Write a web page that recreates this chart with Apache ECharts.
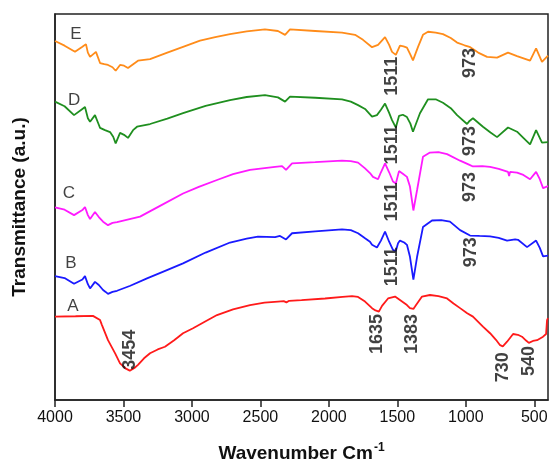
<!DOCTYPE html>
<html>
<head>
<meta charset="utf-8">
<script src="https://cdn.jsdelivr.net/npm/echarts@6/dist/echarts.min.js"></script>
<style>
  html, body { margin: 0; padding: 0; background: #fff; }
  #chart { width: 549px; height: 463px; }
</style>
</head>
<body>
<div id="chart"></div>
<script>
// FTIR spectra, wavenumber (cm-1) vs transmittance (a.u., stacked offsets)
const xTicks = [4000, 3500, 3000, 2500, 2000, 1500, 1000, 500];

const spectrumA = [
  [4000, 21.6], [3850, 21.7], [3723, 21.8], [3671, 20.7], [3657, 19.4], [3613, 15.5],
  [3560, 12.0], [3525, 9.5], [3485, 8.2], [3454, 7.6], [3420, 8.3], [3394, 9.1],
  [3350, 10.8], [3306, 12.1], [3250, 13.1], [3197, 13.8], [3130, 15.5], [3065, 17.3],
  [2992, 18.6], [2900, 20.4], [2817, 22.0], [2700, 23.5], [2576, 24.6], [2470, 25.2],
  [2372, 25.5], [2330, 25.6], [2310, 25.3], [2290, 25.7], [2200, 25.9], [2028, 26.3],
  [1900, 26.7], [1831, 26.9], [1787, 26.7], [1736, 25.5], [1685, 23.8], [1660, 23.2],
  [1635, 22.9], [1612, 24.4], [1568, 26.3], [1517, 26.8], [1481, 25.9], [1430, 24.6],
  [1408, 23.8], [1383, 23.6], [1371, 24.2], [1320, 26.8], [1262, 27.2], [1200, 26.9],
  [1137, 26.3], [1090, 25.0], [1042, 23.8], [990, 22.5], [948, 21.6], [875, 19.0],
  [823, 17.3], [780, 15.6], [750, 14.2], [730, 13.9], [699, 15.1], [655, 17.1],
  [620, 16.9], [590, 16.4], [560, 15.4], [540, 14.8], [510, 15.3], [480, 15.5],
  [436, 16.4], [414, 17.1], [407, 20.7], [400, 21.2]
];

const spectrumB = [
  [4000, 32.1], [3930, 31.6], [3861, 30.1], [3800, 31.2], [3781, 32.1], [3760, 30.0],
  [3744, 28.9], [3708, 30.6], [3680, 29.8], [3649, 28.5], [3630, 28.0], [3613, 27.5],
  [3580, 28.0], [3547, 28.3], [3450, 29.6], [3328, 31.5], [3200, 33.4], [3065, 35.4],
  [2900, 38.2], [2722, 40.8], [2600, 41.8], [2518, 42.3], [2393, 42.2], [2357, 42.5],
  [2313, 41.6], [2269, 43.2], [2100, 43.7], [1904, 44.2], [1840, 44.0], [1787, 43.2],
  [1736, 41.9], [1700, 41.0], [1685, 40.2], [1649, 39.5], [1620, 41.3], [1590, 43.6],
  [1560, 41.0], [1532, 38.9], [1511, 38.6], [1495, 40.6], [1481, 41.3], [1450, 40.8],
  [1430, 40.2], [1408, 37.1], [1383, 31.2], [1356, 37.1], [1313, 44.8], [1247, 46.5],
  [1180, 46.6], [1116, 46.2], [1042, 44.0], [969, 42.6], [900, 42.5], [823, 42.4],
  [760, 42.0], [699, 41.3], [640, 41.6], [619, 41.5], [553, 39.6], [487, 41.3],
  [460, 39.4], [436, 37.2], [400, 37.4]
];

const spectrumC = [
  [4000, 49.9], [3930, 49.3], [3861, 47.9], [3800, 49.2], [3781, 50.0], [3760, 47.9],
  [3744, 46.9], [3708, 48.7], [3680, 47.4], [3649, 46.2], [3613, 45.3], [3580, 45.9],
  [3547, 46.1], [3379, 47.5], [3233, 50.3], [3065, 53.5], [2950, 55.2], [2817, 57.0],
  [2700, 58.5], [2576, 59.6], [2393, 60.4], [2342, 60.6], [2313, 59.6], [2269, 61.3],
  [2100, 61.6], [1904, 62.0], [1840, 61.9], [1787, 61.5], [1736, 60.0], [1700, 58.8],
  [1678, 57.8], [1641, 57.2], [1620, 59.0], [1590, 61.3], [1560, 59.0], [1532, 56.6],
  [1511, 56.1], [1488, 59.3], [1460, 58.6], [1430, 57.8], [1408, 55.3], [1383, 49.1],
  [1356, 54.4], [1313, 63.0], [1262, 64.1], [1200, 64.2], [1137, 63.7], [1042, 62.0],
  [973, 60.9], [948, 60.5], [880, 60.6], [823, 60.4], [760, 59.9], [692, 59.1],
  [684, 58.0], [677, 59.1], [626, 58.9], [580, 58.3], [531, 57.2], [487, 59.1],
  [460, 57.2], [436, 54.9], [400, 55.4]
];

const spectrumD = [
  [4000, 77.3], [3930, 76.1], [3861, 73.8], [3800, 75.4], [3781, 75.9], [3760, 73.0],
  [3744, 72.1], [3708, 73.8], [3680, 71.3], [3671, 70.5], [3635, 69.9], [3598, 69.4],
  [3575, 68.2], [3557, 66.5], [3525, 69.2], [3496, 68.7], [3467, 67.9], [3430, 69.9],
  [3401, 70.8], [3306, 71.5], [3180, 72.9], [3065, 74.3], [2900, 76.2], [2722, 77.7],
  [2600, 78.5], [2467, 79.0], [2372, 78.4], [2320, 77.3], [2284, 78.6], [2100, 78.3],
  [1904, 77.9], [1840, 77.3], [1787, 76.4], [1736, 75.4], [1685, 73.4], [1649, 73.8],
  [1620, 75.2], [1590, 76.8], [1560, 74.4], [1539, 72.5], [1511, 70.6], [1488, 73.6],
  [1460, 73.9], [1430, 73.3], [1405, 71.6], [1386, 69.5], [1335, 74.3], [1276, 77.9],
  [1220, 77.9], [1167, 77.0], [1110, 75.6], [1064, 73.8], [991, 71.5], [973, 72.3],
  [948, 73.0], [875, 70.8], [820, 69.3], [772, 68.1], [692, 70.6], [626, 69.5],
  [580, 67.9], [531, 66.2], [487, 69.9], [444, 66.7], [400, 66.8]
];

const spectrumE = [
  [4000, 93.0], [3930, 91.8], [3854, 90.2], [3800, 91.5], [3774, 92.2], [3760, 90.0],
  [3744, 88.9], [3701, 90.2], [3671, 87.3], [3640, 87.0], [3613, 86.8], [3580, 86.2],
  [3557, 85.3], [3525, 86.8], [3496, 86.6], [3467, 86.0], [3394, 87.9], [3306, 88.3],
  [3180, 90.0], [3065, 91.5], [2941, 93.1], [2830, 94.0], [2722, 94.8], [2600, 95.5],
  [2467, 96.0], [2372, 95.6], [2320, 94.6], [2284, 96.0], [2100, 95.6], [1904, 95.2],
  [1809, 94.6], [1751, 93.3], [1685, 91.4], [1641, 92.0], [1590, 94.0], [1560, 92.0],
  [1539, 90.2], [1511, 89.4], [1481, 91.8], [1455, 91.6], [1430, 91.3], [1405, 89.5],
  [1386, 88.0], [1349, 91.5], [1313, 94.6], [1276, 95.4], [1220, 95.2], [1167, 94.8],
  [1110, 93.8], [1064, 92.6], [1010, 91.9], [973, 91.5], [910, 90.0], [845, 88.9],
  [772, 88.7], [692, 90.0], [626, 89.1], [531, 87.9], [487, 91.1], [444, 87.6],
  [400, 89.2]
];

const seriesNames = ['A', 'B', 'C', 'D', 'E'];
const seriesColors = ['#ff1a1a', '#1a1aff', '#ff1aff', '#1f8f1f', '#ff8c1a'];
const spectra = [spectrumA, spectrumB, spectrumC, spectrumD, spectrumE];

// curve letters: [wavenumber, transmittance, text]
const curveLabels = [
  [3869, 24.4, 'A'], [3883, 35.5, 'B'], [3898, 53.6, 'C'], [3861, 77.7, 'D'], [3847, 94.8, 'E']
];

// band assignments written vertically beside each curve
const peakLabels = [
  [3454, 13.0, '3454'], [1645, 17.1, '1635'], [1393, 17.1, '1383'],
  [732, 8.5, '730'], [535, 10.1, '540'],
  [1539, 34.5, '1511'], [1539, 51.3, '1511'], [1539, 66.1, '1511'], [1539, 83.9, '1511'],
  [962, 38.3, '973'], [969, 55.2, '973'], [969, 67.1, '973'], [969, 87.3, '973']
];

const FONT = '"Liberation Sans", Arial, sans-serif';
const AXIS_COLOR = '#222';

const chart = echarts.init(document.getElementById('chart'), null, { renderer: 'canvas' });

const lineSeries = spectra.map((data, i) => ({
  name: seriesNames[i],
  type: 'line',
  data: data,
  showSymbol: false,
  symbol: 'none',
  silent: true,
  lineStyle: { color: seriesColors[i], width: 1.8 },
  z: 2
}));

const textSeries = [
  {
    type: 'scatter',
    data: curveLabels,
    symbolSize: 0,
    silent: true,
    label: {
      show: true,
      position: 'inside',
      formatter: p => p.data[2],
      fontFamily: FONT,
      fontSize: 17,
      color: '#111',
      align: 'center',
      verticalAlign: 'middle'
    },
    z: 3
  },
  {
    type: 'scatter',
    data: peakLabels,
    symbolSize: 0,
    silent: true,
    label: {
      show: true,
      position: 'inside',
      rotate: 90,
      formatter: p => p.data[2],
      fontFamily: FONT,
      fontWeight: 'bold',
      fontSize: 18,
      color: '#111',
      align: 'center',
      verticalAlign: 'middle'
    },
    z: 3
  }
];

chart.setOption({
  animation: false,
  backgroundColor: '#fff',
  grid: {
    left: 55, right: 1, top: 14, bottom: 63,
    outerBoundsMode: 'none',
    show: true,
    borderColor: AXIS_COLOR,
    borderWidth: 1.5,
    backgroundColor: 'transparent'
  },
  xAxis: {
    type: 'value',
    inverse: true,
    min: 400,
    max: 4000,
    name: '{t|Wavenumber Cm}{s|-1}',
    nameLocation: 'middle',
    nameGap: 42,
    nameTextStyle: {
      rich: {
        t: { fontFamily: FONT, fontWeight: 'bold', fontSize: 19, color: '#111' },
        s: { fontFamily: FONT, fontWeight: 'bold', fontSize: 12, color: '#111', padding: [0, 0, 12, 1] }
      }
    },
    axisLine: { show: true, lineStyle: { color: AXIS_COLOR, width: 1.5 } },
    axisTick: {
      show: true, inside: false, length: 7,
      customValues: xTicks,
      lineStyle: { color: AXIS_COLOR, width: 1.5 }
    },
    axisLabel: {
      customValues: xTicks,
      formatter: v => String(v),
      fontFamily: FONT, fontSize: 16, color: '#111', margin: 10
    },
    splitLine: { show: false }
  },
  yAxis: {
    type: 'value',
    min: 0,
    max: 100,
    name: 'Transmittance (a.u.)',
    nameLocation: 'middle',
    nameGap: 26,
    nameRotate: 90,
    nameTextStyle: { fontFamily: FONT, fontWeight: 'bold', fontSize: 19, color: '#111' },
    axisLine: { show: true, lineStyle: { color: AXIS_COLOR, width: 1.5 } },
    axisTick: { show: false },
    axisLabel: { show: false },
    splitLine: { show: false }
  },
  series: lineSeries.concat(textSeries)
});
</script>
</body>
</html>
